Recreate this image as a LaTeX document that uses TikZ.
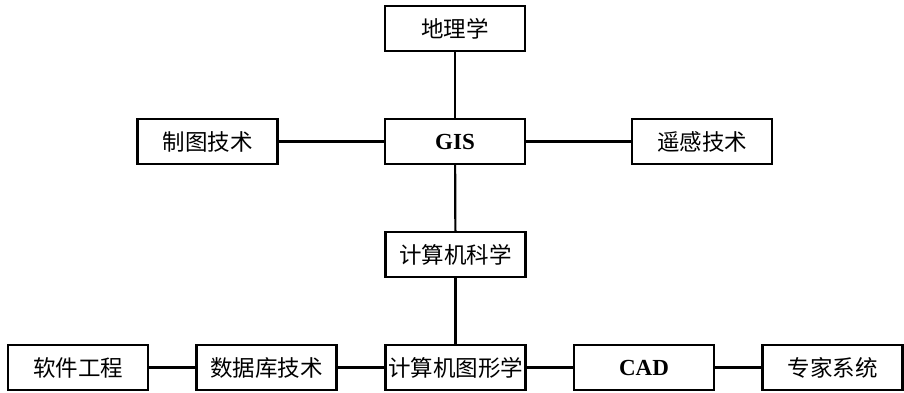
\documentclass[tikz,border=0pt]{standalone}
\usepackage{fontspec}
\setmainfont{Liberation Serif}
\newfontfamily\cjk{Noto Sans CJK SC}
\begin{document}
\begin{tikzpicture}[x=1pt,y=-1pt,
  box/.style={draw=black,line width=2.2pt,minimum width=140pt,minimum height=45pt,inner sep=0pt,font=\cjk\fontsize{22.5}{24}\selectfont},
  lat/.style={box,font=\bfseries\fontsize{23}{25}\selectfont},
  conn/.style={line width=2.2pt}]
\useasboundingbox (0,0) rectangle (904,392);
\node[box] (geo) at (455,28.5) {地理学};
\node[lat] (gis) at (455,141.5) {GIS};
\node[box] (carto) at (207.5,141.5) {制图技术};
\node[box] (rs) at (702,141.5) {遥感技术};
\node[box] (cs) at (455.5,254.5) {计算机科学};
\node[box] (se) at (78,367.5) {软件工程};
\node[box] (db) at (266.5,367.5) {数据库技术};
\node[box] (cg) at (455.5,367.5) {计算机图形学};
\node[lat] (cad) at (644,367.5) {CAD};
\node[box] (es) at (832.5,367.5) {专家系统};
\draw[conn] (geo) -- (gis);
\draw[conn] (carto) -- (gis);
\draw[conn] (gis) -- (rs);
\draw[conn] (gis) -- (cs);
\draw[conn] (cs) -- (cg);
\draw[conn] (se) -- (db);
\draw[conn] (db) -- (cg);
\draw[conn] (cg) -- (cad);
\draw[conn] (cad) -- (es);
\end{tikzpicture}
\end{document}
